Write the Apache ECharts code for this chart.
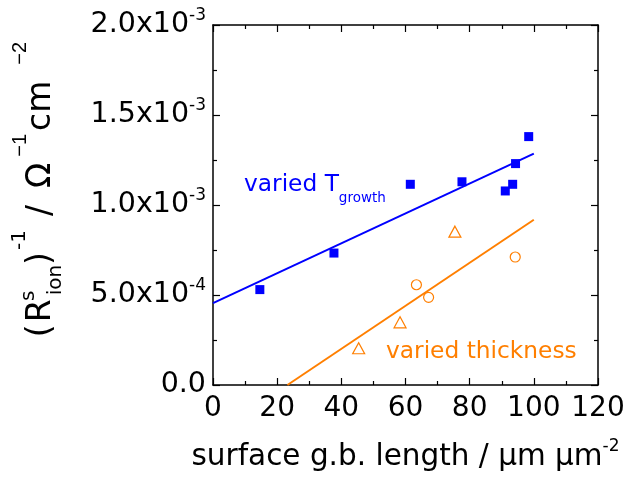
<!DOCTYPE html>
<html>
<head>
<meta charset="utf-8">
<script src="https://cdn.jsdelivr.net/npm/echarts@6/dist/echarts.min.js"></script>
<style>
  html, body { margin: 0; padding: 0; background: #fff; }
  #chart { width: 631px; height: 478px; }
</style>
</head>
<body>
<div id="chart"></div>
<script>
// Sheet ionic conductance vs. surface grain-boundary length
const tGrowthX = [14.6, 37.7, 61.5, 77.6, 91.1, 93.4, 94.3, 98.4];
const tGrowthY = [0.530e-3, 0.733e-3, 1.115e-3, 1.129e-3, 1.078e-3, 1.115e-3, 1.230e-3, 1.380e-3];

const thickTriX = [45.4, 58.3, 75.4];
const thickTriY = [0.204e-3, 0.348e-3, 0.852e-3];

const thickCircX = [63.4, 67.2, 94.2];
const thickCircY = [0.557e-3, 0.487e-3, 0.711e-3];

// linear fits, end points
const tGrowthFitX = [0, 100];
const tGrowthFitY = [0.455e-3, 1.285e-3];
const thickFitX = [23.2, 100];
const thickFitY = [0, 0.918e-3];

// y tick labels: mantissa, exponent
const yTickLabels = [['0.0', ''], ['5.0x10', '-4'], ['1.0x10', '-3'], ['1.5x10', '-3'], ['2.0x10', '-3']];
const xTickLabels = ['0', '20', '40', '60', '80', '100', '120'];

const BLUE = '#0000ff';
const ORANGE = '#ff7f00';
const FONT = '"DejaVu Sans", sans-serif';
const FONT_MINUS = '"Liberation Sans", Arial, sans-serif';

const zip = (xs, ys) => xs.map((x, i) => [x, ys[i]]);

const baseAxis = {
  axisLine: { show: true, onZero: false, lineStyle: { color: '#000', width: 1.5 } },
  axisTick: { show: true, inside: true, length: 7, lineStyle: { color: '#000', width: 1.2 } },
  minorTick: { show: true, splitNumber: 2, length: 4, lineStyle: { color: '#000', width: 1.2 } },
  splitLine: { show: false },
  minorSplitLine: { show: false }
};

const xCommon = Object.assign({}, baseAxis, { type: 'value', min: 0, max: 120, interval: 20 });
const yCommon = Object.assign({}, baseAxis, { type: 'value', min: 0, max: 2e-3, interval: 5e-4 });

// rotated y-axis title: (R^s_ion)^-1 / Ω^-1 cm^-2
const yTitleMain = (pl, pr) => ({ fontSize: 33, fontFamily: FONT, fill: '#000', verticalAlign: 'top', padding: [14.5, pr || 0, 0, pl] });
const yTitleSmall = (pt, pl, fam) => ({ fontSize: 20, fontFamily: fam || FONT, fill: '#000', verticalAlign: 'top', padding: [pt, 0, 0, pl] });
const yTitleRich = {
  p0: yTitleMain(0),
  R: yTitleMain(2, 3),
  s: Object.assign(yTitleSmall(9, 0), { width: 1 }),
  i: yTitleSmall(36, 0),
  p1: yTitleMain(0),
  u1: yTitleSmall(0, 2),
  sl: yTitleMain(14),
  om: yTitleMain(17),
  u2: yTitleSmall(0, 6, FONT_MINUS),
  cm: yTitleMain(3),
  u3: yTitleSmall(0, 16, FONT_MINUS)
};

const chart = echarts.init(document.getElementById('chart'), null, { renderer: 'canvas' });

chart.setOption({
  animation: false,
  backgroundColor: '#fff',
  textStyle: { fontFamily: FONT },
  grid: { left: 213, right: 33, top: 25, bottom: 93, containLabel: false },
  xAxis: [
    Object.assign({}, xCommon, {
      position: 'bottom',
      axisLabel: {
        margin: 10, color: '#000', fontSize: 28, fontFamily: FONT,
        formatter: (v, i) => xTickLabels[i]
      },
      name: '{a|surface g.b. length / μm μm}{b|-2}',
      nameLocation: 'middle',
      nameGap: 53,
      nameTextStyle: {
        color: '#000',
        rich: {
          a: { fontSize: 29.5, fontFamily: FONT, color: '#000', verticalAlign: 'top', padding: [4, 0, 0, 0] },
          b: { fontSize: 17, fontFamily: FONT, color: '#000', verticalAlign: 'top' }
        }
      }
    }),
    Object.assign({}, xCommon, { position: 'top', axisLabel: { show: false } })
  ],
  yAxis: [
    Object.assign({}, yCommon, {
      position: 'left',
      axisLabel: {
        margin: 7, color: '#000',
        formatter: (v, i) => {
          const t = yTickLabels[i];
          return t[1] ? '{m|' + t[0] + '}{e|' + t[1] + '}' : '{m|' + t[0] + '}';
        },
        rich: {
          m: { fontSize: 28.5, fontFamily: FONT, color: '#000', verticalAlign: 'top', padding: [3, 0, 3, 0] },
          e: { fontSize: 17, fontFamily: FONT, color: '#000', verticalAlign: 'top' }
        }
      }
    }),
    Object.assign({}, yCommon, { position: 'right', axisLabel: { show: false } })
  ],
  graphic: [
    {
      type: 'text', x: 10, y: 189.5, rotation: Math.PI / 2, silent: true,
      style: {
        text: '{p0|(}{R|R}{s|s}{i|ion}{p1|)}{u1|-1}{sl|/}{om|Ω}{u2|−1}{cm|cm}{u3|−2}',
        align: 'center', verticalAlign: 'top',
        rich: yTitleRich
      }
    },
    {
      type: 'text', left: 244, top: 173, silent: true,
      style: {
        text: '{a|varied T}{b|growth}',
        fill: BLUE,
        rich: {
          a: { fontSize: 23.3, verticalAlign: 'top', fontFamily: FONT, fill: BLUE },
          b: { fontSize: 13.5, verticalAlign: 'top', padding: [18, 0, 0, 0], fontFamily: FONT, fill: BLUE }
        }
      }
    },
    {
      type: 'text', left: 386, top: 340, silent: true,
      style: { text: 'varied thickness', fill: ORANGE, font: '23.3px ' + FONT }
    }
  ],
  series: [
    {
      type: 'line', data: zip(tGrowthFitX, tGrowthFitY), showSymbol: false, z: 2,
      lineStyle: { color: BLUE, width: 2 }, silent: true
    },
    {
      type: 'line', data: zip(thickFitX, thickFitY), showSymbol: false, z: 2,
      lineStyle: { color: ORANGE, width: 2 }, silent: true
    },
    {
      type: 'scatter', data: zip(tGrowthX, tGrowthY), symbol: 'rect', symbolSize: 9, z: 3,
      itemStyle: { color: BLUE, opacity: 1 }
    },
    {
      type: 'scatter', data: zip(thickTriX, thickTriY), symbol: 'triangle', symbolSize: [12, 11], z: 3,
      itemStyle: { color: 'rgba(255,255,255,0)', borderColor: ORANGE, borderWidth: 1.2, opacity: 1 }
    },
    {
      type: 'scatter', data: zip(thickCircX, thickCircY), symbol: 'circle', symbolSize: 10, z: 3,
      itemStyle: { color: 'rgba(255,255,255,0)', borderColor: ORANGE, borderWidth: 1.2, opacity: 1 }
    }
  ]
});
</script>
</body>
</html>
